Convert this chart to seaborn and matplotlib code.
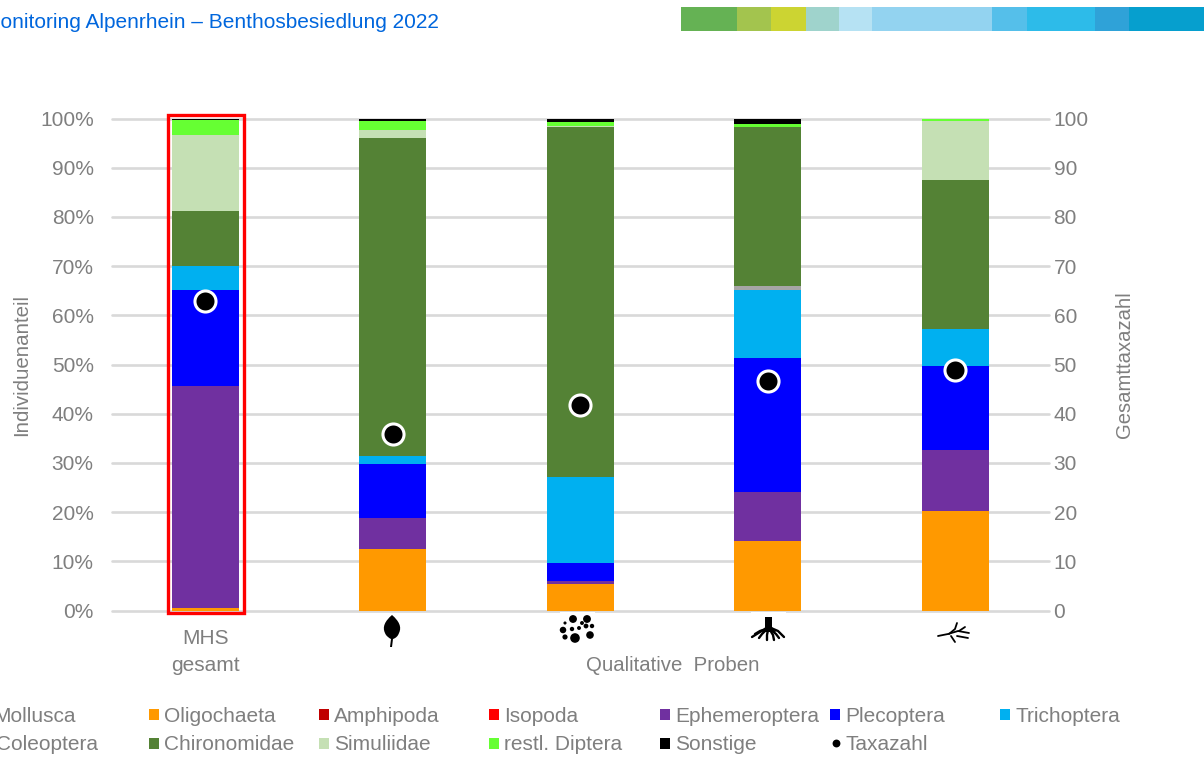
import numpy as np
import matplotlib
matplotlib.use("Agg")
import matplotlib.pyplot as plt
from matplotlib.patches import Rectangle, PathPatch
from matplotlib.path import Path
import seaborn as sns

sns.set_theme(style="white")
plt.rcParams["font.family"] = ["Liberation Sans", "DejaVu Sans"]

sites = ["MHS gesamt", "Laub", "Feindetritus", "Wurzeln", "Totholz"]
oligochaeta = [0.5, 12.4, 5.4, 14.2, 20.3]
ephemeroptera = [45.1, 6.4, 0.6, 9.8, 12.3]
plecoptera = [19.5, 11.0, 3.6, 27.3, 17.1]
trichoptera = [4.9, 1.6, 17.6, 13.9, 7.6]
coleoptera = [0.0, 0.0, 0.0, 0.7, 0.0]
chironomidae = [11.2, 64.6, 71.0, 32.3, 30.3]
simuliidae = [15.5, 1.7, 0.3, 0.0, 11.9]
restl_diptera = [3.0, 1.7, 0.8, 0.7, 0.4]
sonstige = [0.3, 0.6, 0.7, 1.1, 0.1]
taxazahl = [62.9, 35.8, 41.7, 46.7, 48.8]

series_names = ["Oligochaeta", "Ephemeroptera", "Plecoptera", "Trichoptera", "Coleoptera",
                "Chironomidae", "Simuliidae", "restl. Diptera", "Sonstige"]
series_values = [oligochaeta, ephemeroptera, plecoptera, trichoptera, coleoptera,
                 chironomidae, simuliidae, restl_diptera, sonstige]
series_colors = ["#FF9900", "#7030A0", "#0000FF", "#00B0F0", "#A6A6A6",
                 "#548235", "#C5E0B4", "#66FF33", "#000000"]

legend_rows = [
    [("Mollusca", None), ("Oligochaeta", "#FF9900"), ("Amphipoda", "#C00000"), ("Isopoda", "#FF0000"),
     ("Ephemeroptera", "#7030A0"), ("Plecoptera", "#0000FF"), ("Trichoptera", "#00B0F0")],
    [("Coleoptera", None), ("Chironomidae", "#548235"), ("Simuliidae", "#C5E0B4"), ("restl. Diptera", "#66FF33"),
     ("Sonstige", "#000000"), ("Taxazahl", "dot"), ],
]
legend_swatch_x = [None, 154, 324, 494, 665, 835, 1005]
first_column_right = [76, 98]
strip_edges = [681, 737, 771, 806, 839, 872, 992, 1027, 1095, 1129, 1204]
strip_colors = ["#65B254", "#A3C44E", "#CCD432", "#9FD3CC", "#B6E2F3",
                "#93D3F0", "#55BFEA", "#2DBBE9", "#2FA2D8", "#069FCE"]

W, H = 1204, 758
GREY = "#7F7F7F"
TXT = 15
fig = plt.figure(figsize=(W / 100, H / 100), dpi=100, facecolor="white")
ax = fig.add_axes([111.75 / W, 1 - 610.5 / H, 937 / W, 492 / H])

# Stacked columns
bottom = np.zeros(len(sites))
for name, vals, col in zip(series_names, series_values, series_colors):
    sns.barplot(x=sites, y=vals, bottom=bottom, color=col, width=0.357, saturation=1,
                edgecolor="none", linewidth=0, ax=ax, zorder=3)
    bottom = bottom + np.array(vals)

ax.set_xlim(-0.5, 4.5)
ax.set_ylim(0, 100)
ax.set_yticks(np.arange(0, 101, 10))
ax.set_yticklabels([f"{v}%" for v in range(0, 101, 10)], fontsize=TXT, color=GREY)
ax.set_ylabel("Individuenanteil", fontsize=14.8, color=GREY, labelpad=6.5)
ax.set_xticks([])
ax.set_xlabel("")
ax.grid(axis="y", color="#D9D9D9", lw=1.9, zorder=0)
for line in ax.get_ygridlines():
    line.set_clip_on(False)
ax.set_axisbelow(True)
ax.tick_params(axis="y", length=0, pad=13)
for s in ax.spines.values():
    s.set_visible(False)

# Total taxa on the secondary axis
ax2 = ax.twinx()
sns.scatterplot(x=np.arange(len(sites)), y=taxazahl, s=230, color="black", edgecolor="white",
                linewidth=2.2, ax=ax2, zorder=5, clip_on=False)
ax2.set_xlim(-0.5, 4.5)
ax2.set_ylim(0, 100)
ax2.set_yticks(np.arange(0, 101, 10))
ax2.set_yticklabels([str(v) for v in range(0, 101, 10)], fontsize=TXT, color=GREY)
ax2.set_ylabel("Gesamttaxazahl", fontsize=14.6, color=GREY, labelpad=19)
ax2.tick_params(axis="y", length=0, pad=3.5)
ax2.grid(False)
for s in ax2.spines.values():
    s.set_visible(False)

# Page furniture in pixel coordinates
page = fig.add_axes([0, 0, 1, 1], zorder=10)
page.set_xlim(0, W)
page.set_ylim(H, 0)
page.axis("off")
page.patch.set_alpha(0)

page.text(439, 22, "Monitoring Alpenrhein – Benthosbesiedlung 2022", color="#0066DD",
          fontsize=TXT, va="center", ha="right")
for c, x0, x1 in zip(strip_colors, strip_edges[:-1], strip_edges[1:]):
    page.add_patch(Rectangle((x0, 7), x1 - x0, 24, fc=c, ec="none"))

page.add_patch(Rectangle((167.5, 114.5), 76, 498, fc="none", ec="#FF0000", lw=2.4))

page.text(205.5, 638, "MHS", color=GREY, fontsize=TXT, ha="center", va="center")
page.text(205.5, 665.5, "gesamt", color=GREY, fontsize=TXT, ha="center", va="center")
page.text(673, 665.5, "Qualitative  Proben", color=GREY, fontsize=14.7, ha="center", va="center")

# Leaf pictogram
leaf = Path([(392, 615),
             (385, 621), (382, 627), (385, 633),
             (386, 636), (389, 638), (391, 639),
             (390, 647), (392, 647), (393, 639),
             (396, 638), (398, 636), (399, 633),
             (402, 627), (399, 621), (392, 615),
             (392, 615)],
            [Path.MOVETO,
             Path.CURVE4, Path.CURVE4, Path.CURVE4,
             Path.CURVE4, Path.CURVE4, Path.CURVE4,
             Path.LINETO, Path.LINETO, Path.LINETO,
             Path.CURVE4, Path.CURVE4, Path.CURVE4,
             Path.CURVE4, Path.CURVE4, Path.CURVE4,
             Path.CLOSEPOLY])
page.add_patch(PathPatch(leaf, fc="black", ec="none"))

# Fine-sediment pictogram
page.add_patch(Rectangle((560, 611.5), 35, 2, fc="white", ec="none"))
gx = [573, 587, 582, 565, 563, 572, 579, 586, 592, 565, 575, 590]
gy = [619, 619, 623, 623, 630, 629, 628, 626, 626, 637, 638, 635]
gs = [32, 32, 8, 5, 22, 10, 8, 12, 10, 14, 48, 30]
page.scatter(gx, gy, s=gs, c="black", linewidths=0)

# Root pictogram
page.add_patch(Rectangle((751, 611.5), 35, 2, fc="white", ec="none"))
stump = Path([(765, 617), (772, 617), (772, 627), (776, 632), (763, 632), (765, 627), (765, 617)],
             [Path.MOVETO, Path.LINETO, Path.LINETO, Path.LINETO, Path.LINETO, Path.LINETO, Path.CLOSEPOLY])
page.add_patch(PathPatch(stump, fc="black", ec="none"))
roots = [[(767, 628), (760, 632), (752, 637)], [(767, 629), (762, 634), (759, 638)],
         [(768, 630), (767, 635), (767, 640)], [(770, 630), (773, 635), (774, 640)],
         [(771, 628), (778, 631), (784, 637)], [(770, 629), (776, 634), (779, 638)],
         [(766, 629), (760, 631), (755, 634)]]
for r in roots:
    xs, ys = zip(*r)
    page.plot(xs, ys, color="black", lw=1.7, solid_capstyle="round")

# Deadwood pictogram
twigs = [[(938, 636), (948, 634), (958, 631), (969, 633)], [(949, 634), (955, 629), (957, 623)],
         [(951, 636), (955, 642)], [(957, 636), (968, 638)], [(959, 631), (965, 627)]]
for r in twigs:
    xs, ys = zip(*r)
    page.plot(xs, ys, color="black", lw=1.3, solid_capstyle="round")

# Hand-placed legend; the first column runs off the left edge of the page
for row, y, first_right in zip(legend_rows, (716, 745), first_column_right):
    for i, (label, col) in enumerate(row):
        if i == 0:
            page.text(first_right, y, label, color=GREY, fontsize=TXT, va="center", ha="right")
            continue
        sx = legend_swatch_x[i]
        if col == "dot":
            page.scatter([sx + 0.5], [y - 2], s=32, c="black", linewidths=0)
        else:
            page.add_patch(Rectangle((sx - 5, y - 7), 10, 11, fc=col, ec="none"))
        page.text(sx + 10, y, label, color=GREY, fontsize=TXT, va="center", ha="left")

fig.savefig("out.png", dpi=100)
